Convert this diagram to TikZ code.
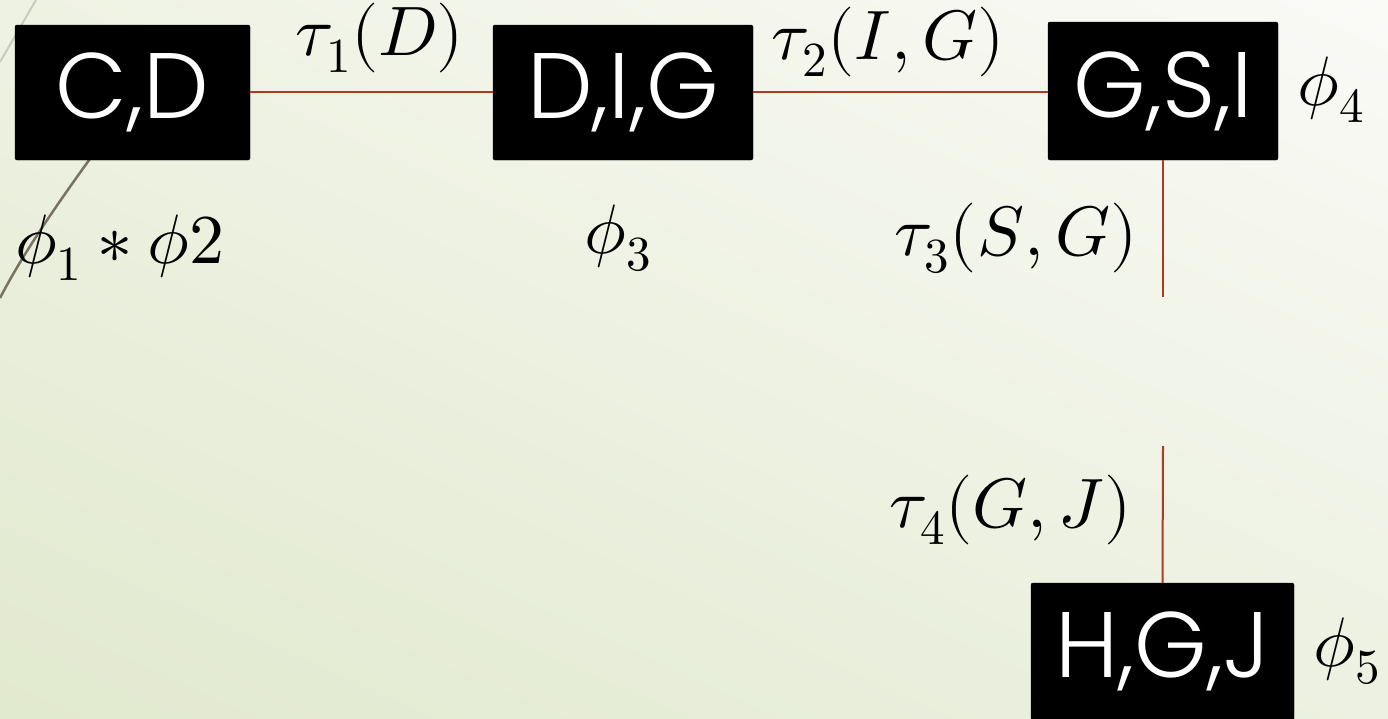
\documentclass[tikz,border=0pt]{standalone}
\usepackage{fontspec}
\usepackage{unicode-math}
\setmathfont{Latin Modern Math}
\usetikzlibrary{shadings}
\newfontfamily\boxfont{Poppins Light}
\tikzset{
  clique/.style={fill=black, draw=black, rounded corners=2pt, inner sep=0pt,
    text=white, font=\boxfont\fontsize{93}{100}\selectfont},
  sep/.style={draw=sepred, line width=2pt},
  lbl/.style={anchor=base, inner sep=0pt, font=\fontsize{70}{78}\selectfont}
}
\definecolor{sepred}{HTML}{B03A20}
\definecolor{bgTL}{HTML}{EEF2E3}
\definecolor{bgTR}{HTML}{FAFAF6}
\definecolor{bgBL}{HTML}{E1E9CE}
\definecolor{bgBR}{HTML}{ECF1E1}
\definecolor{wispA}{HTML}{CACAC2}
\definecolor{wispB}{HTML}{7A7262}
\begin{document}
\begin{tikzpicture}[x=1pt,y=-1pt]
\useasboundingbox (0,0) rectangle (1388,718);
\shade[upper left=bgTL, upper right=bgTR, lower left=bgBL, lower right=bgBR] (0,0) rectangle (1388,718);
% decorative theme strokes
\draw[wispA, line width=2pt] (36,0) -- (0,62);
\draw[wispB, line width=2.5pt] (100,145) .. controls (60,200) and (25,250) .. (0,298);
% cliques
\node[clique, minimum width=235, minimum height=135] (cd) at (132.5,92.5) {C,D};
\node[clique, minimum width=260, minimum height=135] (dig) at (623,92.5) {D,I,G};
\node[clique, minimum width=230, minimum height=138] (gsi) at (1163,91) {G,S,I};
\node[clique, minimum width=263, minimum height=137] (hgj) at (1162.5,651.5) {H,G,J};
\coordinate (t3end) at (1163,297);
\coordinate (t4start) at (1163,446);
% separators
\draw[sep] (cd.east |- 0,92) -- (dig.west |- 0,92);
\draw[sep] (dig.east |- 0,92) -- (gsi.west |- 0,92);
\draw[sep] (gsi.south) -- (t3end);
\draw[sep] (t4start) -- (hgj.north);
% labels
\node[lbl] (l1) at (380,55) {$\tau_1(D)$};
\node[lbl] (l2) at (888,59) {$\tau_2(I,G)$};
\node[lbl] (l3) at (1016,255) {$\tau_3(S,G)$};
\node[lbl] (l4) at (1011,527) {$\tau_4(G,J)$};
\node[lbl] (p12) at (120,263) {$\phi_1 * \phi 2$};
\node[lbl] (p3) at (618,253) {$\phi_3$};
\node[lbl] (p4) at (1331,105) {$\phi_4$};
\node[lbl] (p5) at (1347,666) {$\phi_5$};
\end{tikzpicture}
\end{document}
